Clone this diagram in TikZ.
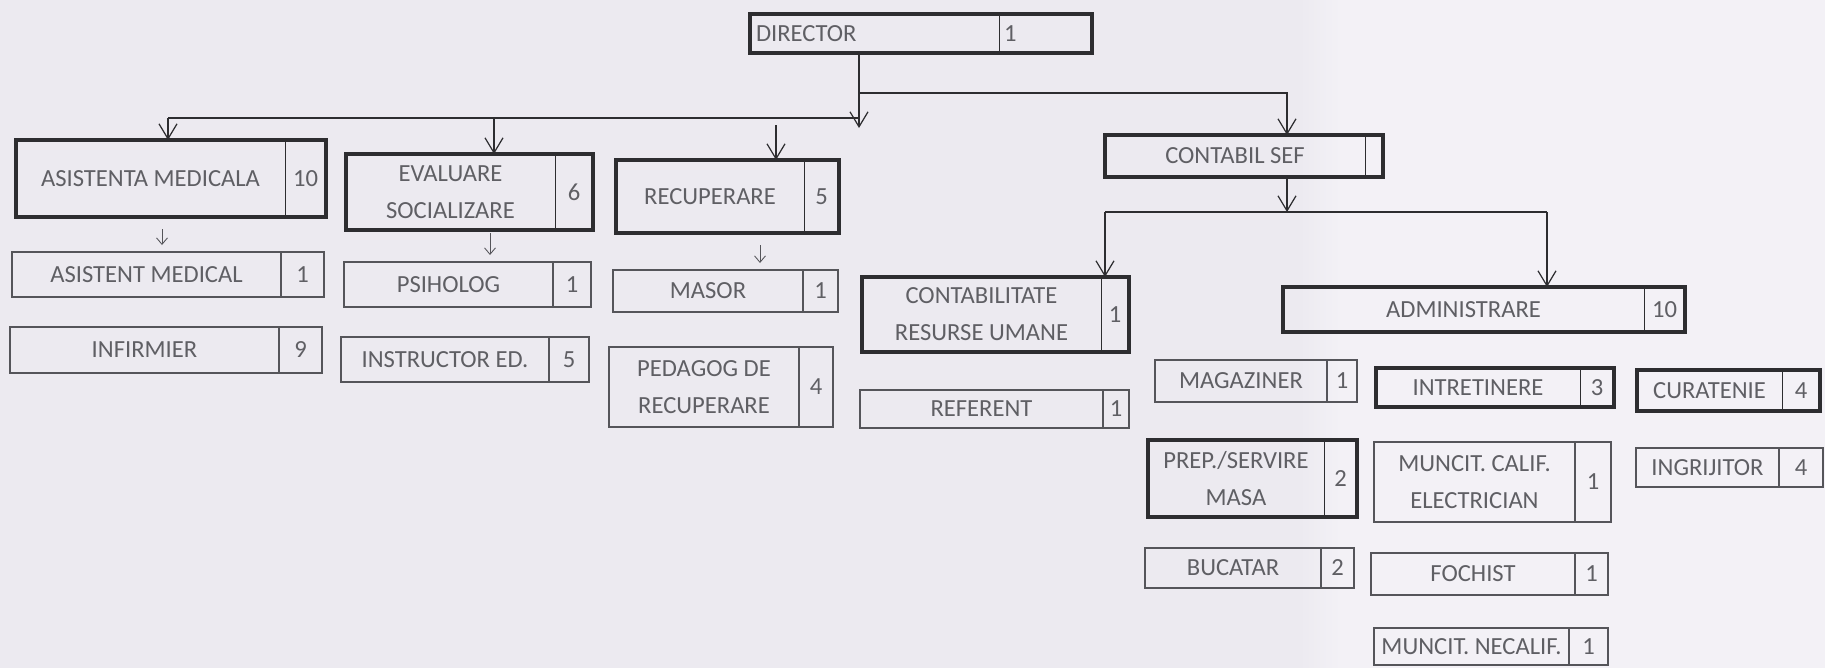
\documentclass[tikz,border=0pt]{standalone}
\usepackage{fontspec}
\setmainfont{Carlito}
\usepackage{tikz}
\usetikzlibrary{arrows.meta}
\usetikzlibrary{positioning}
\usetikzlibrary{fit}
\definecolor{paper}{RGB}{236,234,240}
\definecolor{paperlight}{RGB}{243,241,246}
\definecolor{ink}{RGB}{45,45,48}
\definecolor{pale}{RGB}{85,85,90}
\definecolor{print}{RGB}{95,95,100}
\tikzstyle{cell}=[rectangle,text=print,inner sep=0mm,outer sep=0pt,align=center,font=\fontsize{14}{21}\selectfont]
\tikzstyle{head}=[cell,draw=ink,line width=0.5pt]
\tikzstyle{post}=[cell,draw=pale,line width=0.8pt]
\tikzstyle{frame}=[rectangle,draw=ink,line width=2pt,inner sep=0pt,outer sep=0pt]
\tikzstyle{link}=[draw=ink,line width=0.7pt]
\tikzstyle{arrow}=[link,->,>={Straight Barb[length=3mm,width=3.6mm]}]
\tikzstyle{smallarrow}=[->,>={Straight Barb[length=1.3mm,width=2.2mm]},draw=pale,line width=0.5pt,shorten <=2.4mm,shorten >=1.4mm]

\begin{document}
\begin{tikzpicture}
      \useasboundingbox (0,0) rectangle (36.5,-13.36);
      \fill[paper] (0,0) rectangle (26,-13.36);
      \shade[left color=paper, right color=paperlight] (25.99,0) rectangle (26.8,-13.36);
      \fill[paperlight] (26.79,0) rectangle (36.5,-13.36);
      % top
      \node[head, minimum width=4.98cm, minimum height=0.78cm, text width=4.74cm, align=left] at (17.49,-0.67) (dir) {DIRECTOR};
      \node[head, right=0pt of dir, minimum width=1.86cm, minimum height=0.78cm, text width=1.66cm, align=left] (dirn) {1};
      \node[frame, fit=(dir) (dirn)] (dirf) {};
      % departments
      \node[head, minimum width=5.38cm, minimum height=1.54cm] at (3.01,-3.57) (am) {ASISTENTA MEDICALA};
      \node[head, right=0pt of am, minimum width=0.82cm, minimum height=1.54cm] (amn) {10};
      \node[frame, fit=(am) (amn)] (amf) {};
      \node[head, minimum width=4.18cm, minimum height=1.52cm] at (9.01,-3.84) (ev) {EVALUARE\\SOCIALIZARE};
      \node[head, right=0pt of ev, minimum width=0.76cm, minimum height=1.52cm] (evn) {6};
      \node[frame, fit=(ev) (evn)] (evf) {};
      \node[head, minimum width=3.76cm, minimum height=1.46cm] at (14.2,-3.93) (rc) {RECUPERARE};
      \node[head, right=0pt of rc, minimum width=0.7cm, minimum height=1.46cm] (rcn) {5};
      \node[frame, fit=(rc) (rcn)] (rcf) {};
      \node[head, minimum width=5.2cm, minimum height=0.84cm] at (24.7,-3.12) (cs) {CONTABIL SEF};
      \node[head, right=0pt of cs, minimum width=0.36cm, minimum height=0.84cm] (csn) {};
      \node[frame, fit=(cs) (csn)] (csf) {};
      % staff
      \node[post, minimum width=5.38cm, minimum height=0.9cm] at (2.93,-5.49) (amd) {ASISTENT MEDICAL};
      \node[post, right=0pt of amd, minimum width=0.86cm, minimum height=0.9cm] (amdn) {1};
      \node[post, minimum width=5.38cm, minimum height=0.92cm] at (2.89,-7.0) (inf) {INFIRMIER};
      \node[post, right=0pt of inf, minimum width=0.86cm, minimum height=0.92cm] (infn) {9};
      \node[post, minimum width=4.18cm, minimum height=0.9cm] at (8.97,-5.69) (psi) {PSIHOLOG};
      \node[post, right=0pt of psi, minimum width=0.76cm, minimum height=0.9cm] (psin) {1};
      \node[post, minimum width=4.16cm, minimum height=0.9cm] at (8.9,-7.19) (ins) {INSTRUCTOR ED.};
      \node[post, right=0pt of ins, minimum width=0.8cm, minimum height=0.9cm] (insn) {5};
      \node[post, minimum width=3.8cm, minimum height=0.84cm] at (14.16,-5.82) (mas) {MASOR};
      \node[post, right=0pt of mas, minimum width=0.7cm, minimum height=0.84cm] (masn) {1};
      \node[post, minimum width=3.8cm, minimum height=1.6cm] at (14.08,-7.74) (ped) {PEDAGOG DE\\RECUPERARE};
      \node[post, right=0pt of ped, minimum width=0.68cm, minimum height=1.6cm] (pedn) {4};
      \node[head, minimum width=4.78cm, minimum height=1.5cm] at (19.63,-6.29) (crh) {CONTABILITATE\\RESURSE UMANE};
      \node[head, right=0pt of crh, minimum width=0.56cm, minimum height=1.5cm] (crhn) {1};
      \node[frame, fit=(crh) (crhn)] (crhf) {};
      \node[post, minimum width=4.86cm, minimum height=0.76cm] at (19.63,-8.18) (ref) {REFERENT};
      \node[post, right=0pt of ref, minimum width=0.52cm, minimum height=0.76cm] (refn) {1};
      \node[head, minimum width=7.22cm, minimum height=0.9cm] at (29.27,-6.19) (adm) {ADMINISTRARE};
      \node[head, right=0pt of adm, minimum width=0.82cm, minimum height=0.9cm] (admn) {10};
      \node[frame, fit=(adm) (admn)] (admf) {};
      \node[post, minimum width=3.44cm, minimum height=0.84cm] at (24.82,-7.62) (mag) {MAGAZINER};
      \node[post, right=0pt of mag, minimum width=0.6cm, minimum height=0.84cm] (magn) {1};
      \node[head, minimum width=4.08cm, minimum height=0.78cm] at (29.56,-7.75) (intr) {INTRETINERE};
      \node[head, right=0pt of intr, minimum width=0.68cm, minimum height=0.78cm] (intrn) {3};
      \node[frame, fit=(intr) (intrn)] (intrf) {};
      \node[head, minimum width=2.9cm, minimum height=0.82cm] at (34.19,-7.81) (cur) {CURATENIE};
      \node[head, right=0pt of cur, minimum width=0.76cm, minimum height=0.82cm] (curn) {4};
      \node[frame, fit=(cur) (curn)] (curf) {};
      \node[head, minimum width=3.52cm, minimum height=1.54cm] at (24.72,-9.57) (prep) {PREP./SERVIRE\\MASA};
      \node[head, right=0pt of prep, minimum width=0.66cm, minimum height=1.54cm] (prepn) {2};
      \node[frame, fit=(prep) (prepn)] (prepf) {};
      \node[post, minimum width=4.02cm, minimum height=1.6cm] at (29.49,-9.64) (mcal) {MUNCIT. CALIF.\\ELECTRICIAN};
      \node[post, right=0pt of mcal, minimum width=0.72cm, minimum height=1.6cm] (mcaln) {1};
      \node[post, minimum width=2.86cm, minimum height=0.78cm] at (34.15,-9.35) (ingr) {INGRIJITOR};
      \node[post, right=0pt of ingr, minimum width=0.88cm, minimum height=0.78cm] (ingrn) {4};
      \node[post, minimum width=3.52cm, minimum height=0.8cm] at (24.66,-11.36) (buc) {BUCATAR};
      \node[post, right=0pt of buc, minimum width=0.66cm, minimum height=0.8cm] (bucn) {2};
      \node[post, minimum width=4.08cm, minimum height=0.84cm] at (29.46,-11.48) (foc) {FOCHIST};
      \node[post, right=0pt of foc, minimum width=0.66cm, minimum height=0.84cm] (focn) {1};
      \node[post, minimum width=3.9cm, minimum height=0.74cm] at (29.43,-12.93) (mnec) {MUNCIT. NECALIF.};
      \node[post, right=0pt of mnec, minimum width=0.78cm, minimum height=0.74cm] (mnecn) {1};
      % bends
      \coordinate (dtip) at (17.18,-2.56);
      \coordinate (rj) at (17.18,-1.86);
      \coordinate (rk) at (25.74,-1.86);
      \coordinate (lj) at (17.18,-2.36);
      \coordinate (la) at (3.36,-2.36);
      \coordinate (lb) at (9.88,-2.36);
      \coordinate (lc) at (15.52,-2.5);
      \coordinate (ctip) at (25.74,-4.24);
      \coordinate (cl) at (22.1,-4.24);
      \coordinate (cr) at (30.94,-4.24);
      \coordinate (sa) at (3.24,0);
      \coordinate (sb) at (9.8,0);
      \coordinate (sc) at (15.2,0);
      \draw[arrow] (dtip |- dirf.south) -- (dtip);
      \draw[arrow] (rj) -- (rk) -- (rk |- csf.north);
      \draw[link] (lj) -- (la);
      \draw[arrow] (la) -- (la |- amf.north);
      \draw[arrow] (lb) -- (lb |- evf.north);
      \draw[arrow] (lc) -- (lc |- rcf.north);
      \draw[arrow] (ctip |- csf.south) -- (ctip);
      \draw[link] (cl) -- (cr);
      \draw[arrow] (cl) -- (cl |- crhf.north);
      \draw[arrow] (cr) -- (cr |- admf.north);
      \draw[smallarrow] (sa |- amf.south) -- (sa |- amd.north);
      \draw[smallarrow, shorten <=0.6mm] (sb |- evf.south) -- (sb |- psi.north);
      \draw[smallarrow] (sc |- rcf.south) -- (sc |- mas.north);
\end{tikzpicture}
\end{document}
